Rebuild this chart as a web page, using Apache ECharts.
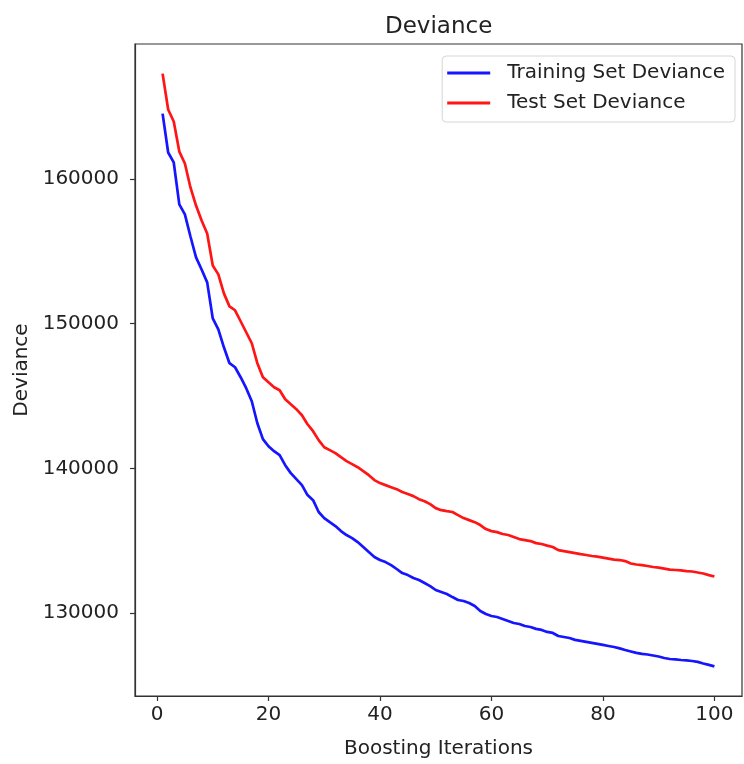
<!DOCTYPE html>
<html>
<head>
<meta charset="utf-8">
<script src="https://cdn.jsdelivr.net/npm/echarts@6/dist/echarts.min.js"></script>
<style>
  html, body { margin: 0; padding: 0; background: #fff; }
  #chart { width: 744px; height: 764px; }
</style>
</head>
<body>
<div id="chart"></div>
<script>
// boosting iterations 1..100
var iterations = Array.from({ length: 100 }, function (_, i) { return i + 1; });

// training set deviance
var trainDeviance = [
  164530, 161840, 161150, 158250, 157560, 156030, 154590, 153750, 152860, 150370,
  149610, 148370, 147270, 146990, 146300, 145540, 144640, 143120, 142020, 141530,
  141190, 140910, 140220, 139670, 139250, 138840, 138150, 137800, 136980, 136560,
  136280, 136010, 135660, 135390, 135180, 134900, 134560, 134210, 133870, 133660,
  133520, 133310, 133040, 132760, 132620, 132420, 132280, 132070, 131860, 131590,
  131450, 131310, 131100, 130900, 130830, 130690, 130480, 130140, 129930, 129790,
  129720, 129590, 129450, 129310, 129240, 129100, 129030, 128900, 128830, 128690,
  128620, 128410, 128340, 128270, 128140, 128070, 128000, 127930, 127860, 127790,
  127720, 127650, 127550, 127440, 127340, 127240, 127170, 127130, 127060, 126990,
  126890, 126820, 126790, 126750, 126720, 126680, 126620, 126510, 126410, 126310
];

// test set deviance
var testDeviance = [
  167290, 164810, 163980, 161900, 161080, 159420, 158170, 157140, 156240, 154030,
  153410, 152100, 151200, 150930, 150170, 149410, 148650, 147270, 146300, 145950,
  145610, 145400, 144780, 144430, 144090, 143670, 143050, 142570, 141950, 141460,
  141260, 141050, 140770, 140500, 140290, 140080, 139810, 139530, 139190, 138980,
  138840, 138700, 138560, 138360, 138220, 138080, 137870, 137730, 137530, 137250,
  137110, 137040, 136980, 136770, 136560, 136420, 136280, 136080, 135800, 135660,
  135590, 135460, 135390, 135250, 135110, 135040, 134970, 134830, 134770, 134660,
  134560, 134350, 134280, 134210, 134140, 134070, 134010, 133940, 133900, 133830,
  133760, 133690, 133660, 133590, 133420, 133350, 133310, 133250, 133180, 133140,
  133070, 133000, 132970, 132940, 132900, 132870, 132800, 132730, 132620, 132520
];

var xTicks = [0, 20, 40, 60, 80, 100];
var yTicks = [130000, 140000, 150000, 160000];

function pairs(vals) {
  return iterations.map(function (it, i) { return [it, vals[i]]; });
}

var font = 'DejaVu Sans';
var myChart = echarts.init(document.getElementById('chart'));
myChart.setOption({
  backgroundColor: '#fff',
  animation: false,
  title: {
    text: 'Deviance',
    left: 380,
    top: 11,
    textStyle: { fontFamily: font, fontSize: 23, fontWeight: 'normal', color: '#222' }
  },
  legend: {
    orient: 'vertical',
    right: 9,
    top: 56,
    padding: [7, 10, 9, 5],
    itemGap: 10,
    icon: 'rect',
    itemWidth: 43,
    itemHeight: 3,
    backgroundColor: '#fff',
    borderColor: '#d6d6d6',
    borderWidth: 1,
    borderRadius: 4,
    textStyle: { fontFamily: font, fontSize: 20, color: '#222', padding: [0, 0, 0, 12], lineHeight: 19 },
    data: ['Training Set Deviance', 'Test Set Deviance']
  },
  grid: {
    left: 135,
    right: 2,
    top: 44,
    bottom: 67,
    show: true,
    borderColor: '#333',
    borderWidth: 1.2
  },
  xAxis: {
    type: 'value',
    min: -3.95,
    max: 104.95,
    name: 'Boosting Iterations',
    nameLocation: 'middle',
    nameGap: 43,
    nameTextStyle: { fontFamily: font, fontSize: 20, color: '#222' },
    axisLine: { show: true, onZero: false, lineStyle: { color: '#333', width: 1.2 } },
    axisTick: { show: true, length: 5, customValues: xTicks, lineStyle: { color: '#333', width: 1.2 } },
    axisLabel: { customValues: xTicks, margin: 9, fontFamily: font, fontSize: 20, color: '#222' },
    splitLine: { show: false }
  },
  yAxis: {
    type: 'value',
    min: 124260,
    max: 169340,
    name: 'Deviance',
    nameLocation: 'middle',
    nameGap: 93,
    nameTextStyle: { fontFamily: font, fontSize: 20, color: '#222' },
    axisLine: { show: true, onZero: false, lineStyle: { color: '#333', width: 1.2 } },
    axisTick: { show: true, length: 5, customValues: yTicks, lineStyle: { color: '#333', width: 1.2 } },
    axisLabel: {
      customValues: yTicks, margin: 16, fontFamily: font, fontSize: 20, color: '#222',
      formatter: function (v) { return String(v); }
    },
    splitLine: { show: false }
  },
  series: [
    {
      name: 'Training Set Deviance',
      type: 'line',
      data: pairs(trainDeviance),
      symbol: 'none',
      lineStyle: { color: '#1515ff', width: 2.7 },
      itemStyle: { color: '#1515ff' }
    },
    {
      name: 'Test Set Deviance',
      type: 'line',
      data: pairs(testDeviance),
      symbol: 'none',
      lineStyle: { color: '#ff1515', width: 2.7 },
      itemStyle: { color: '#ff1515' }
    }
  ]
});
</script>
</body>
</html>
